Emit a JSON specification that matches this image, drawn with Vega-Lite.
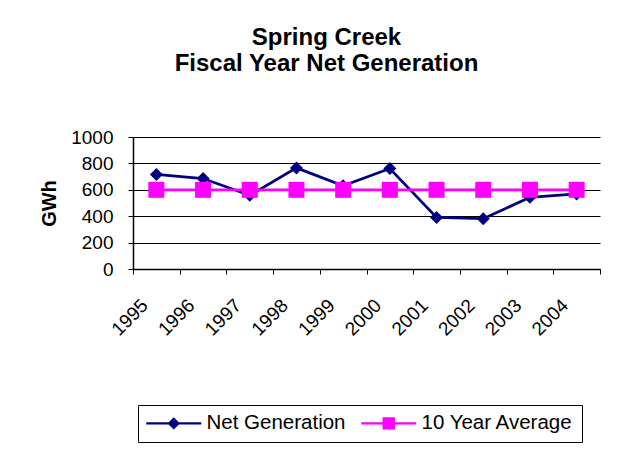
{
  "$schema": "https://vega.github.io/schema/vega-lite/v6.json",
  "width": 467,
  "height": 132,
  "autosize": {"type": "none"},
  "padding": {"left": 133, "top": 137, "right": 25, "bottom": 187},
  "background": "white",
  "title": {
    "text": ["Spring Creek", "Fiscal Year Net Generation"],
    "font": "Liberation Sans",
    "fontSize": 24,
    "fontWeight": "bold",
    "color": "black",
    "anchor": "middle",
    "dx": -40,
    "offset": 52,
    "lineHeight": 26
  },
  "data": {
    "values": [
      {"year": "1995", "series": "Net Generation", "value": 716},
      {"year": "1996", "series": "Net Generation", "value": 685},
      {"year": "1997", "series": "Net Generation", "value": 558},
      {"year": "1998", "series": "Net Generation", "value": 766},
      {"year": "1999", "series": "Net Generation", "value": 630},
      {"year": "2000", "series": "Net Generation", "value": 761},
      {"year": "2001", "series": "Net Generation", "value": 391},
      {"year": "2002", "series": "Net Generation", "value": 381},
      {"year": "2003", "series": "Net Generation", "value": 543},
      {"year": "2004", "series": "Net Generation", "value": 569},
      {"year": "1995", "series": "10 Year Average", "value": 600},
      {"year": "1996", "series": "10 Year Average", "value": 600},
      {"year": "1997", "series": "10 Year Average", "value": 600},
      {"year": "1998", "series": "10 Year Average", "value": 600},
      {"year": "1999", "series": "10 Year Average", "value": 600},
      {"year": "2000", "series": "10 Year Average", "value": 600},
      {"year": "2001", "series": "10 Year Average", "value": 600},
      {"year": "2002", "series": "10 Year Average", "value": 600},
      {"year": "2003", "series": "10 Year Average", "value": 600},
      {"year": "2004", "series": "10 Year Average", "value": 600}
    ]
  },
  "encoding": {
    "x": {
      "field": "year",
      "type": "ordinal",
      "bandPosition": 0.5,
      "scale": {"type": "band", "paddingInner": 0, "paddingOuter": 0},
      "axis": {
        "title": null,
        "tickBand": "extent",
        "labelAngle": -45,
        "labelAlign": "right",
        "labelBaseline": "middle",
        "labelOffset": -12,
        "labelPadding": 28,
        "tickSize": 5,
        "labelFontSize": 19,
        "grid": false
      }
    },
    "y": {
      "field": "value",
      "type": "quantitative",
      "scale": {"domain": [0, 1000], "nice": false},
      "axis": {
        "title": "GWh",
        "values": [0, 200, 400, 600, 800, 1000],
        "format": "d",
        "grid": true,
        "tickSize": 5,
        "labelPadding": 15,
        "titlePadding": 11,
        "titleFontSize": 20,
        "titleFontWeight": "bold",
        "labelFontSize": 19
      }
    },
    "color": {
      "field": "series",
      "type": "nominal",
      "sort": ["Net Generation", "10 Year Average"],
      "scale": {"domain": ["Net Generation", "10 Year Average"], "range": ["#000080", "#FF00FF"]},
      "legend": {
        "title": null,
        "orient": "none",
        "legendX": 5,
        "legendY": 268,
        "direction": "horizontal",
        "strokeColor": "black",
        "fillColor": "white",
        "padding": 8,
        "labelFont": "Liberation Sans",
        "labelFontSize": 20.5,
        "labelColor": "black",
        "labelLimit": 300,
        "symbolSize": 400,
        "symbolStrokeWidth": 0,
        "labelOffset": 40,
        "columnPadding": 15,
        "encode": {
          "symbols": {
            "update": {
              "shape": {"signal": "datum.value === 'Net Generation' ? 'M-1,-0.12H4.5V0.12H-1Z M1.75,-0.62L2.37,0L1.75,0.62L1.13,0Z' : 'M-1,-0.12H4.5V0.12H-1Z M1.13,-0.62H2.37V0.62H1.13Z'"},
              "fill": {"signal": "datum.value === 'Net Generation' ? '#000080' : '#FF00FF'"}
            }
          }
        }
      }
    }
  },
  "layer": [
    {
      "transform": [{"filter": "datum.series === 'Net Generation'"}],
      "mark": {"type": "line", "strokeWidth": 2.75, "point": {"shape": "diamond", "size": 169, "filled": true}}
    },
    {
      "transform": [{"filter": "datum.series === '10 Year Average'"}],
      "mark": {"type": "line", "strokeWidth": 2.75, "point": {"shape": "square", "size": 256, "filled": true}}
    }
  ],
  "config": {
    "view": {"stroke": null},
    "axis": {
      "labelFont": "Liberation Sans",
      "titleFont": "Liberation Sans",
      "labelColor": "black",
      "titleColor": "black",
      "domainColor": "black",
      "domainWidth": 1.5,
      "tickColor": "black",
      "tickWidth": 1,
      "gridColor": "black",
      "gridWidth": 1,
      "gridOpacity": 1
    }
  }
}
